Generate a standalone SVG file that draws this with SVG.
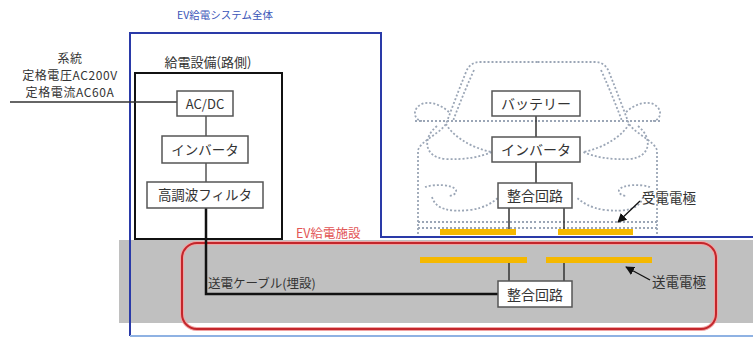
<svg xmlns="http://www.w3.org/2000/svg" xmlns:xlink="http://www.w3.org/1999/xlink" width="753" height="338" viewBox="0 0 753 338">
  <style>
    text { font-family: "Noto Sans CJK JP", "Noto Sans", sans-serif; fill: #333; }
    .box { fill: #fff; stroke: #555; stroke-width: 1.5; }
    .link { stroke: #555; stroke-width: 1.5; fill: none; }
    .car { fill: none; stroke: #9ba6b6; stroke-width: 1.8; stroke-dasharray: 2 2; }
    .pad { stroke: #f5b800; stroke-width: 6; }
    .lbl { font-size: 13px; text-anchor: middle; }
    .grid { font-size: 12px; letter-spacing: 0.6px; text-anchor: middle; }
    .boxtxt { font-size: 14px; text-anchor: middle; }
  </style>
  <defs>
    <marker id="arrow" viewBox="0 0 10 10" refX="9" refY="5" markerWidth="7" markerHeight="7" orient="auto">
      <path d="M0,0 L10,5 L0,10 z" fill="#111"/>
    </marker>
    <!-- left half of the vehicle outline, mirrored for the right half -->
    <g id="carHalf">
      <path class="car" d="M537.5,62 H480 Q470,62 466,72 C458,92 452,108 446,124 C438,135 422,140 418,150 V236"/>
      <path class="car" d="M474,70 C465,90 459,105 453,121"/>
      <path class="car" d="M449,112 C440,104 428,100 420,105 C412,110 414,120 422,121"/>
      <path class="car" d="M415,121 H537.5"/>
      <path class="car" d="M437,126 C422,138 424,157 445,159 C465,160 480,157 492,152 C470,148 452,135 446,124"/>
      <path class="car" d="M425,187 C435,184 452,184 456,190 C457,194 452,196 448,196"/>
      <path class="car" d="M432,197 C436,210 450,212 470,210 C485,208 493,202 498,198"/>
      <path class="car" d="M418,222 H537.5"/>
      <path class="car" d="M418,228 H537.5"/>
    </g>
  </defs>

  <!-- ground band -->
  <rect x="119" y="240" width="634" height="83" fill="#c0c0c0"/>

  <!-- overall system frame -->
  <g id="system-frame">
    <path d="M130,336 V33 H381 V237 H753" fill="none" stroke="#2a3aa8" stroke-width="2"/>
    <line x1="130" y1="336" x2="753" y2="336" stroke="#8fb2e3" stroke-width="2"/>
    <text x="177" y="19" style="font-size:10.5px; fill:#3a55b8;">EV給電システム全体</text>
  </g>

  <!-- vehicle outline -->
  <g id="vehicle">
    <use xlink:href="#carHalf"/>
    <use xlink:href="#carHalf" transform="translate(1075,0) scale(-1,1)"/>
  </g>

  <!-- roadside equipment frame -->
  <g id="roadside-equipment">
    <rect x="135" y="73" width="147" height="166" fill="none" stroke="#111" stroke-width="2"/>
    <text x="208" y="67" class="lbl">給電設備(路側)</text>
  </g>

  <!-- EV charging facility -->
  <g id="charging-facility">
    <rect x="182" y="243" width="534" height="86" rx="15" fill="none" stroke="#f1a3a3" stroke-width="4"/>
    <rect x="182" y="243" width="534" height="86" rx="15" fill="none" stroke="#c3262b" stroke-width="2"/>
    <text x="296" y="238" style="font-size:12.5px; fill:#e25555;">EV給電施設</text>
  </g>

  <!-- connectors -->
  <g id="connectors">
    <line x1="10" y1="102" x2="177" y2="102" stroke="#333" stroke-width="1.3"/>
    <line class="link" x1="206" y1="116" x2="206" y2="136"/>
    <line class="link" x1="206" y1="163" x2="206" y2="182"/>
    <path d="M206,208 V294 H498" fill="none" stroke="#111" stroke-width="2.5"/>
    <line x1="536" y1="116" x2="536" y2="137" stroke="#333" stroke-width="1.5"/>
    <line x1="536" y1="162" x2="536" y2="183" stroke="#333" stroke-width="1.5"/>
    <line x1="509" y1="208" x2="509" y2="231" stroke="#333" stroke-width="1.5"/>
    <line x1="564" y1="208" x2="564" y2="231" stroke="#333" stroke-width="1.5"/>
    <line x1="509" y1="260" x2="509" y2="281" stroke="#333" stroke-width="1.5"/>
    <line x1="564" y1="260" x2="564" y2="281" stroke="#333" stroke-width="1.5"/>
    <line x1="640" y1="201" x2="618" y2="222" stroke="#111" stroke-width="1.3" marker-end="url(#arrow)"/>
    <line x1="650" y1="280" x2="626" y2="267" stroke="#111" stroke-width="1.3" marker-end="url(#arrow)"/>
  </g>

  <!-- grid supply -->
  <g id="grid">
    <text x="70" y="63" class="grid">系統</text>
    <text x="70" y="80" class="grid">定格電圧AC200V</text>
    <text x="70" y="97" class="grid">定格電流AC60A</text>
  </g>

  <g id="acdc">
    <rect class="box" x="177" y="91" width="56" height="25"/>
    <text x="205" y="108.5" style="font-size:13px; text-anchor:middle;">AC/DC</text>
  </g>
  <g id="inverter-road">
    <rect class="box" x="162" y="136" width="86" height="27"/>
    <text x="205" y="154.5" style="font-size:13.5px; text-anchor:middle;">インバータ</text>
  </g>
  <g id="filter">
    <rect class="box" x="147" y="182" width="116" height="26"/>
    <text x="205" y="200" style="font-size:13.5px; text-anchor:middle;">高調波フィルタ</text>
  </g>

  <g id="battery">
    <rect class="box" x="492" y="91" width="88" height="25"/>
    <text x="536" y="109" class="boxtxt">バッテリー</text>
  </g>
  <g id="inverter-car">
    <rect class="box" x="492" y="137" width="88" height="25"/>
    <text x="536" y="155" class="boxtxt">インバータ</text>
  </g>
  <g id="matching-car">
    <rect class="box" x="498" y="183" width="74" height="25"/>
    <text x="535" y="201" class="boxtxt">整合回路</text>
  </g>

  <g id="receive-pads">
    <line class="pad" x1="440" y1="232" x2="516" y2="232" stroke-width="5"/>
    <line class="pad" x1="558" y1="232" x2="633" y2="232" stroke-width="5"/>
    <text x="642" y="203" style="font-size:13.5px;">受電電極</text>
  </g>

  <g id="transmit-pads">
    <line class="pad" x1="420" y1="260" x2="527" y2="260"/>
    <line class="pad" x1="546" y1="260" x2="652" y2="260"/>
    <text x="652" y="287" style="font-size:13.5px;">送電電極</text>
  </g>

  <g id="matching-ground">
    <rect class="box" x="498" y="281" width="74" height="26"/>
    <text x="535" y="299.5" class="boxtxt">整合回路</text>
  </g>

  <g id="cable-label">
    <text x="208" y="288" style="font-size:12.5px;">送電ケーブル(埋設)</text>
  </g>
</svg>
